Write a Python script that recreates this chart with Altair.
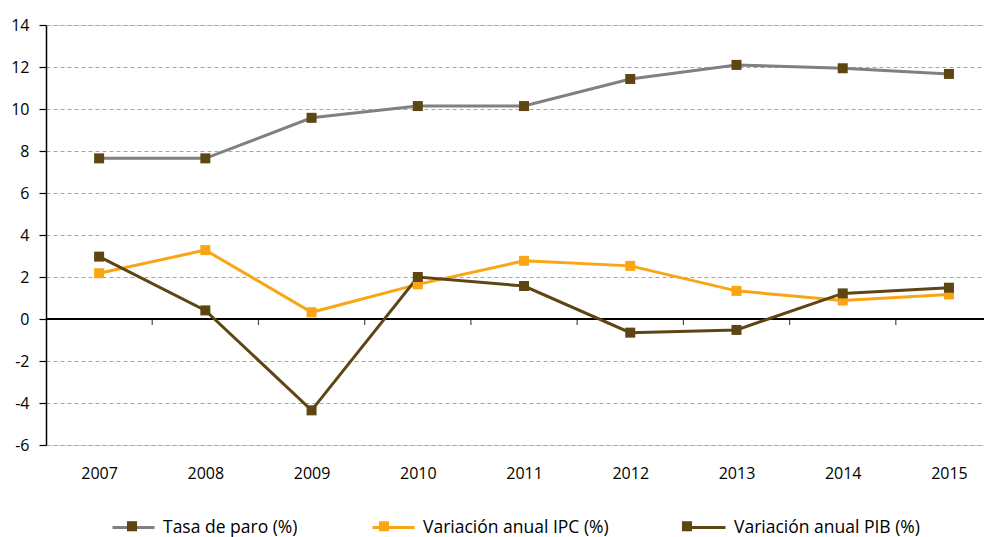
import altair as alt
import pandas as pd

years = [2007, 2008, 2009, 2010, 2011, 2012, 2013, 2014, 2015]
series_names = ["Tasa de paro (%)", "Variación anual IPC (%)", "Variación anual PIB (%)"]
paro = [7.65, 7.65, 9.58, 10.14, 10.14, 11.43, 12.10, 11.94, 11.67]
ipc = [2.18, 3.28, 0.32, 1.65, 2.77, 2.53, 1.34, 0.88, 1.17]
pib = [2.97, 0.41, -4.35, 2.00, 1.57, -0.65, -0.52, 1.22, 1.49]
y_ticks = [-6, -4, -2, 0, 2, 4, 6, 8, 10, 12, 14]

line_colors = ["#808080", "#F9A514", "#5D4614"]
marker_colors = ["#5D4614", "#F9A514", "#5D4614"]

rows = []
for i, name in enumerate(series_names):
    vals = [paro, ipc, pib][i]
    for y, v in zip(years, vals):
        rows.append({"year": y, "value": v, "serie": name, "order": i})
df = pd.DataFrame(rows)

bounds = pd.DataFrame({"b": [y + 0.5 for y in years[:-1]]})

FONT_AX = "Open Sans"
FONT_LEG = "Open Sans"

x_scale = alt.Scale(domain=[2006.5, 2015.33], nice=False, zero=False)
y_scale = alt.Scale(domain=[-6, 14], nice=False, zero=False)

x_enc = alt.X("year:Q", scale=x_scale,
              axis=alt.Axis(values=years, format="d", title=None, domain=False, ticks=False,
                            grid=False, labelFont=FONT_AX, labelFontSize=16, labelColor="#000000",
                            labelPadding=20, labelFlush=False))
y_enc = alt.Y("value:Q", scale=y_scale,
              axis=alt.Axis(values=y_ticks, title=None, domain=True, domainColor="#000000",
                            domainWidth=1.5, ticks=True, tickColor="#000000", tickSize=7,
                            tickWidth=1.2, labelFont=FONT_AX, labelFontSize=16,
                            labelExpr="toString(datum.value)",
                            labelColor="#000000", labelPadding=10, grid=True,
                            gridColor="#A6A6A6", gridDash=[4, 3], gridWidth=1))

base = alt.Chart(df)

grid_layer = base.mark_point(opacity=0).encode(x=x_enc, y=y_enc)

zero_rule = alt.Chart(bounds).mark_rule(color="#000000", strokeWidth=1.5).encode(y=alt.datum(0, scale=y_scale))

ticks = alt.Chart(bounds).mark_tick(color="#000000", thickness=1.2, size=6, yOffset=3, orient="vertical").encode(
    x=alt.X("b:Q", scale=x_scale), y=alt.datum(0, scale=y_scale))

LEG_X = 65
LEG_Y = 480
SYM = 1764
LEG_FS = 17.5
COLPAD = 68

lines = base.mark_line(strokeWidth=3).encode(
    x=alt.X("year:Q", scale=x_scale),
    y=alt.Y("value:Q", scale=y_scale),
    detail="serie:N",
    order=alt.Order("year:Q"),
    stroke=alt.Stroke("serie:N", scale=alt.Scale(domain=series_names, range=line_colors),
                      legend=alt.Legend(title=None, orient="none", legendX=LEG_X, legendY=LEG_Y,
                                        direction="horizontal", symbolType="stroke",
                                        symbolSize=SYM, symbolStrokeWidth=3, labelLimit=400,
                                        labelFont=FONT_LEG, labelFontSize=LEG_FS, labelColor="#000000",
                                        labelOffset=7, columnPadding=COLPAD)),
)

points = base.mark_point(shape="square", filled=True, size=100, opacity=1).encode(
    x=alt.X("year:Q", scale=x_scale),
    y=alt.Y("value:Q", scale=y_scale),
    fill=alt.Fill("serie:N", scale=alt.Scale(domain=series_names, range=marker_colors),
                  legend=alt.Legend(title=None, orient="none", legendX=LEG_X, legendY=LEG_Y,
                                    direction="horizontal",
                                    symbolType="M-0.24,-0.24L0.24,-0.24L0.24,0.24L-0.24,0.24Z",
                                    symbolSize=SYM, symbolStrokeWidth=0, symbolOpacity=1,
                                    labelLimit=400,
                                    labelFont=FONT_LEG, labelFontSize=LEG_FS,
                                    labelColor="rgba(0,0,0,0)", labelOpacity=0,
                                    labelOffset=7, columnPadding=COLPAD)),
)

chart = alt.layer(grid_layer, zero_rule, ticks, lines, points).resolve_scale(
    stroke="independent", fill="independent"
).resolve_legend(stroke="independent", fill="independent").properties(
    width=938, height=420,
    autosize=alt.AutoSizeParams(type="none"),
    padding={"left": 38, "top": 17, "right": 0, "bottom": 92},
).configure_view(stroke=None).configure(background="#FFFFFF")

chart.save("out.html", embed_options={"renderer": "svg", "actions": False})
